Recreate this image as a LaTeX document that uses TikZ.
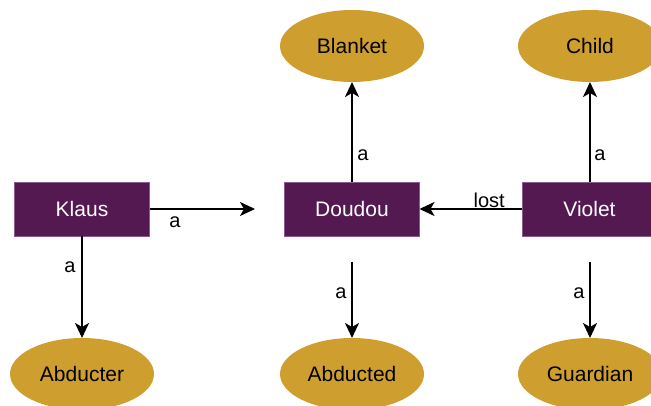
\documentclass[tikz,border=0pt]{standalone}
\usepackage{fontspec}
\setmainfont{Liberation Sans}
\usetikzlibrary{arrows.meta,shapes.geometric}
\definecolor{boxpurple}{RGB}{83,25,80}
\definecolor{boxedge}{RGB}{140,90,140}
\definecolor{ovalgold}{RGB}{206,159,46}
\tikzset{
  entity/.style={rectangle, fill=boxpurple, draw=boxedge, line width=0.6pt,
    minimum width=135pt, minimum height=54pt, inner sep=0pt, outer sep=0pt,
    text=white, font=\fontsize{21}{25}\selectfont},
  concept/.style={ellipse, fill=ovalgold, draw=none, minimum width=144pt,
    minimum height=72pt, inner sep=0pt, outer sep=0pt, text=black,
    font=\fontsize{21}{25}\selectfont},
  rel/.style={line width=2pt, -{Stealth[length=15pt,width=14pt,inset=4pt]}},
  lbl/.style={font=\fontsize{20}{24}\selectfont, inner sep=0pt, text=black}
}
\begin{document}
\begin{tikzpicture}[x=1pt,y=-1pt]
\useasboundingbox (0,0) rectangle (651,406);
\clip (0,0) rectangle (651,406);
\node[entity] (klaus) at (82,209) {Klaus};
\node[entity] (doudou) at (352,209) {Doudou};
\node[entity] (violet) at (589.5,209) {Violet};
\node[concept] (blanket) at (352,46) {Blanket};
\node[concept] (child) at (590,46) {Child};
\node[concept] (abducter) at (82,374) {Abducter};
\node[concept] (abducted) at (352,374) {Abducted};
\node[concept] (guardian) at (590,374) {Guardian};
\coordinate (kend) at (255,209);
\coordinate (dstart) at (352,262);
\coordinate (vstart) at (590,262);
\draw[rel] (klaus.east) -- node[lbl, pos=0.24, yshift=-13pt] {a} (kend);
\draw[rel] (klaus.south) -- node[lbl, pos=0.31, xshift=-12pt] {a} (abducter.north);
\draw[rel] (doudou.north) -- node[lbl, pos=0.27, xshift=11pt] {a} (blanket.south);
\draw[rel] (violet.north -| child.south) -- node[lbl, pos=0.27, xshift=10pt] {a} (child.south);
\draw[rel] (violet.west) -- node[lbl, pos=0.32, yshift=9pt] {lost} (doudou.east);
\draw[rel] (dstart) -- node[lbl, pos=0.41, xshift=-11pt] {a} (abducted.north);
\draw[rel] (vstart) -- node[lbl, pos=0.41, xshift=-11pt] {a} (guardian.north);
\end{tikzpicture}
\end{document}
